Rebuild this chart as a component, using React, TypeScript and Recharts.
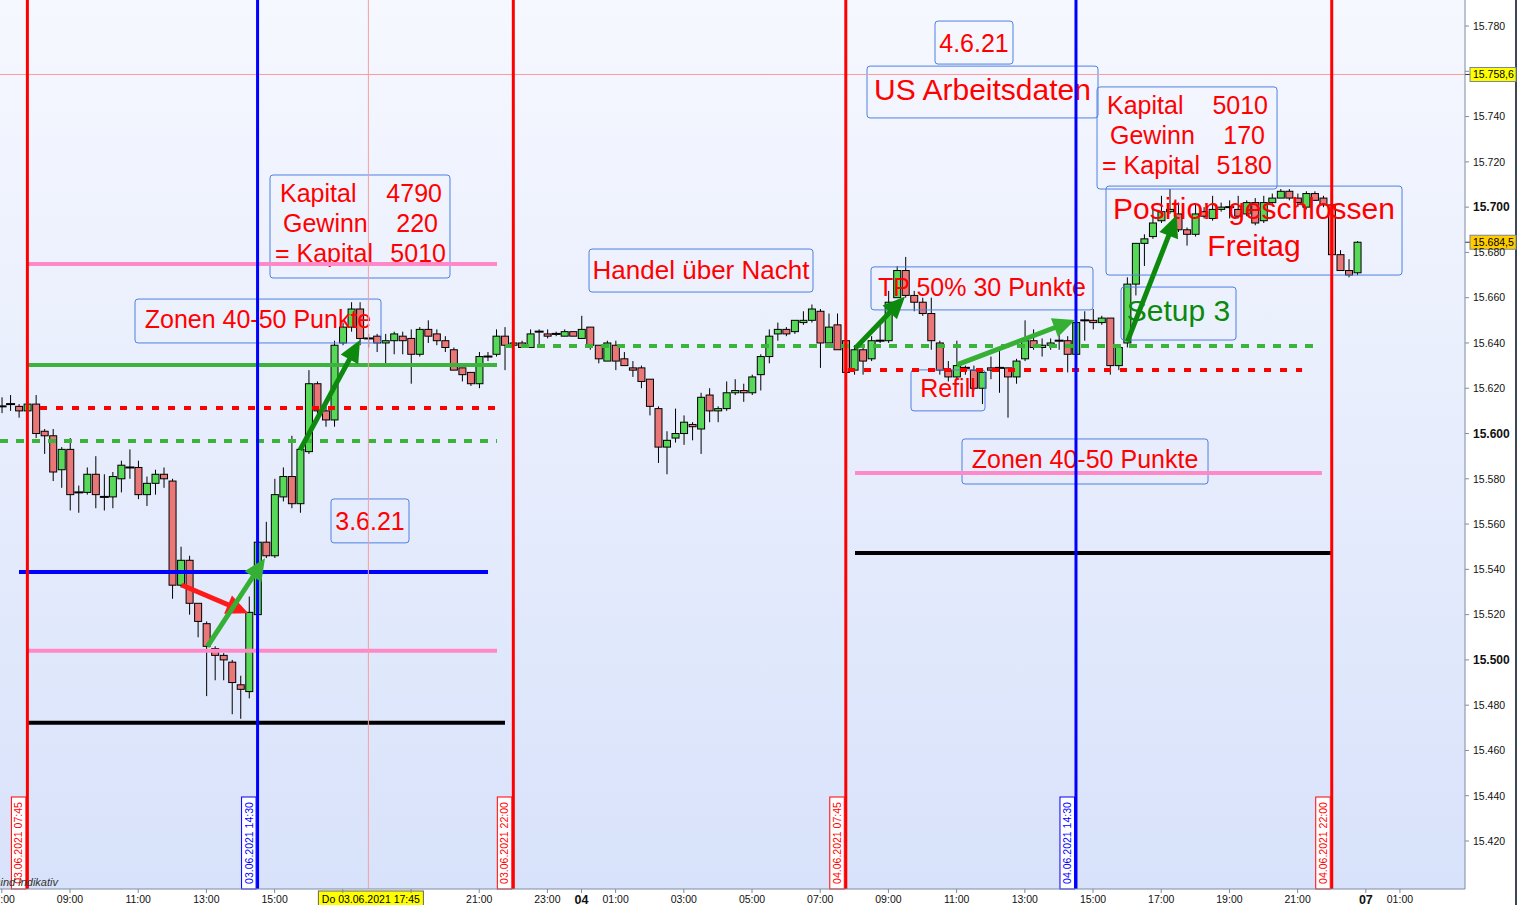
import React from "react";
import { ComposedChart, Bar, XAxis, YAxis, ReferenceLine } from "recharts";

// FDAX 15-minute candles, 03.06.2021 07:00 .. 04.06.2021 22:45
const firstHour = 7;
const barHours = 0.25;

const opens = [
  15612, 15613, 15612, 15610, 15613, 15601, 15599, 15584, 15593, 15574,
  15574, 15582, 15572, 15572, 15580, 15585, 15585, 15573, 15578, 15582,
  15579, 15533, 15544, 15525, 15516, 15505, 15502, 15499, 15489, 15486,
  15520, 15552, 15546, 15572, 15581, 15569, 15592, 15622, 15610, 15606,
  15640, 15647, 15655, 15642, 15643, 15640, 15641, 15643, 15642, 15635,
  15646, 15644, 15641, 15637, 15629, 15627, 15622, 15634, 15635, 15643,
  15639, 15640, 15638, 15645, 15644, 15644, 15643, 15645, 15642, 15647,
  15639, 15632, 15639, 15633, 15629, 15629, 15624, 15611, 15594, 15598,
  15600, 15604, 15602, 15617, 15610, 15611, 15618, 15619, 15618, 15626,
  15634, 15644, 15646, 15645, 15649, 15650, 15654, 15640, 15648, 15641,
  15628, 15637, 15633, 15641, 15641, 15660, 15672, 15661, 15658, 15653,
  15640, 15628, 15625, 15629, 15628, 15620, 15629, 15629, 15629, 15625,
  15633, 15641, 15638, 15639, 15641, 15641, 15635, 15650, 15650, 15649,
  15651, 15630, 15640, 15666, 15684, 15687, 15694, 15698, 15697, 15690,
  15688, 15698, 15695, 15699, 15700, 15699, 15697, 15702, 15694, 15702,
  15704, 15707, 15704, 15700, 15706, 15704, 15701, 15679, 15672, 15671,
];
const highs = [
  15616, 15617, 15613, 15614, 15617, 15602, 15602, 15594, 15598, 15577,
  15585, 15590, 15582, 15583, 15588, 15593, 15588, 15581, 15584, 15585,
  15580, 15550, 15546, 15525, 15517, 15506, 15503, 15500, 15493, 15528,
  15553, 15561, 15580, 15585, 15599, 15593, 15628, 15623, 15612, 15641,
  15649, 15658, 15658, 15644, 15644, 15644, 15645, 15645, 15646, 15647,
  15650, 15646, 15643, 15638, 15629, 15627, 15636, 15636, 15646, 15647,
  15640, 15641, 15646, 15646, 15646, 15645, 15646, 15645, 15652, 15647,
  15639, 15641, 15641, 15636, 15632, 15630, 15624, 15612, 15601, 15611,
  15608, 15605, 15618, 15620, 15612, 15623, 15624, 15622, 15626, 15635,
  15646, 15649, 15647, 15650, 15654, 15657, 15655, 15653, 15653, 15649,
  15639, 15638, 15643, 15650, 15663, 15674, 15678, 15663, 15660, 15660,
  15641, 15632, 15641, 15630, 15630, 15627, 15634, 15637, 15629, 15633,
  15650, 15646, 15642, 15642, 15646, 15643, 15651, 15654, 15655, 15652,
  15651, 15638, 15669, 15684, 15688, 15699, 15705, 15708, 15702, 15691,
  15701, 15700, 15705, 15702, 15703, 15705, 15703, 15704, 15705, 15706,
  15708, 15708, 15706, 15707, 15707, 15705, 15702, 15681, 15677, 15685,
];
const lows = [
  15609, 15610, 15607, 15609, 15598, 15591, 15579, 15576, 15566, 15565,
  15573, 15567, 15566, 15567, 15574, 15580, 15571, 15568, 15573, 15576,
  15527, 15532, 15520, 15510, 15484, 15491, 15491, 15476, 15474, 15483,
  15519, 15545, 15545, 15570, 15567, 15565, 15591, 15608, 15603, 15603,
  15639, 15645, 15639, 15638, 15636, 15631, 15635, 15635, 15622, 15634,
  15640, 15639, 15636, 15628, 15623, 15621, 15620, 15632, 15634, 15628,
  15638, 15638, 15638, 15639, 15642, 15643, 15643, 15643, 15642, 15637,
  15631, 15632, 15628, 15630, 15625, 15620, 15608, 15587, 15582, 15596,
  15595, 15597, 15591, 15605, 15605, 15610, 15617, 15614, 15617, 15619,
  15631, 15641, 15643, 15644, 15648, 15649, 15629, 15640, 15637, 15627,
  15626, 15626, 15632, 15640, 15640, 15660, 15660, 15654, 15652, 15637,
  15626, 15623, 15624, 15626, 15619, 15613, 15624, 15618, 15607, 15622,
  15632, 15637, 15634, 15637, 15637, 15627, 15634, 15641, 15646, 15648,
  15626, 15628, 15638, 15661, 15674, 15686, 15693, 15697, 15689, 15683,
  15687, 15695, 15694, 15698, 15695, 15695, 15696, 15692, 15693, 15701,
  15704, 15703, 15700, 15699, 15703, 15700, 15679, 15672, 15669, 15670,
];
const closes = [
  15612, 15613, 15610, 15613, 15600, 15599, 15583, 15593, 15573, 15574,
  15582, 15573, 15572, 15581, 15586, 15585, 15573, 15578, 15582, 15580,
  15533, 15544, 15525, 15517, 15506, 15502, 15500, 15490, 15487, 15521,
  15552, 15546, 15573, 15581, 15569, 15593, 15622, 15610, 15606, 15639,
  15647, 15655, 15642, 15642, 15640, 15641, 15644, 15641, 15635, 15646,
  15643, 15641, 15638, 15628, 15626, 15622, 15634, 15634, 15643, 15639,
  15640, 15638, 15644, 15645, 15643, 15644, 15645, 15643, 15646, 15639,
  15633, 15640, 15632, 15630, 15628, 15623, 15612, 15594, 15597, 15600,
  15605, 15603, 15616, 15610, 15611, 15618, 15619, 15618, 15625, 15634,
  15643, 15646, 15644, 15650, 15650, 15655, 15640, 15647, 15637, 15627,
  15637, 15632, 15641, 15641, 15658, 15672, 15661, 15658, 15653, 15641,
  15628, 15625, 15630, 15629, 15620, 15627, 15628, 15629, 15625, 15632,
  15641, 15638, 15639, 15640, 15641, 15635, 15649, 15650, 15649, 15651,
  15630, 15638, 15666, 15684, 15686, 15693, 15698, 15699, 15690, 15688,
  15697, 15696, 15699, 15700, 15700, 15696, 15702, 15693, 15702, 15704,
  15707, 15704, 15702, 15706, 15703, 15701, 15679, 15672, 15670, 15684.5,
];

// time axis in hours from 03.06 00:00 (weekend collapsed: 47 = Mo 07.06 00:00)
const xTicks = [7, 9, 11, 13, 15, 17, 19, 21, 23, 24, 25, 27, 29, 31, 33, 35, 37, 39, 41, 43, 45, 47, 48];
const xLabels = [
  "07:00", "09:00", "11:00", "13:00", "15:00", "", "", "21:00", "23:00", "04", "01:00",
  "03:00", "05:00", "07:00", "09:00", "11:00", "13:00", "15:00", "17:00", "19:00", "21:00", "07", "01:00",
];
const yTicks = [15420, 15440, 15460, 15480, 15500, 15520, 15540, 15560, 15580, 15600, 15620, 15640, 15660, 15680, 15700, 15720, 15740, 15760, 15780];
const yHidden = [15760]; // covered by the last-price tag

const data = opens.map((o, i) => ({
  t: firstHour + i * barHours,
  open: o,
  high: highs[i],
  low: lows[i],
  close: closes[i],
  range: [lows[i], highs[i]],
}));

const font = "'Liberation Sans', Arial, sans-serif";

const sessionLines = [
  { t: 7.75, color: "#ff0000", label: "03.06.2021 07:45" },
  { t: 14.5, color: "#0000ff", label: "03.06.2021 14:30" },
  { t: 22, color: "#ff0000", label: "03.06.2021 22:00" },
  { t: 31.75, color: "#ff0000", label: "04.06.2021 07:45" },
  { t: 38.5, color: "#0000ff", label: "04.06.2021 14:30" },
  { t: 46, color: "#ff0000", label: "04.06.2021 22:00" },
];

const levels = [
  { p: 15674.9, from: 7.768, to: 21.522, color: "#ff88c8" },
  { p: 15630.3, from: 7.768, to: 21.522, color: "#3cb43c" },
  { p: 15611.3, from: 8.12, to: 21.61, color: "#ff0000", dash: "7 9" },
  { p: 15596.7, from: 6.947, to: 21.522, color: "#3cb43c", dash: "8 8" },
  { p: 15538.8, from: 7.504, to: 21.258, color: "#0000ff" },
  { p: 15504.0, from: 7.768, to: 21.522, color: "#ff88c8" },
  { p: 15472.2, from: 7.768, to: 21.756, color: "#000000" },
  { p: 15638.7, from: 21.756, to: 45.51, color: "#3cb43c", dash: "8 8" },
  { p: 15628.1, from: 31.815, to: 45.13, color: "#ff0000", dash: "7 9" },
  { p: 15582.6, from: 32.02, to: 45.71, color: "#ff88c8" },
  { p: 15547.2, from: 32.02, to: 46.0, color: "#000000" },
];

const arrows = [
  { from: [12.275, 15533.1], to: [14.228, 15520.6], color: "#ff1a1a" },
  { from: [13.026, 15505.9], to: [14.718, 15544.9], color: "#35b035" },
  { from: [15.745, 15592.7], to: [17.504, 15641.3], color: "#0d8a0d" },
  { from: [32.02, 15637.6], to: [33.487, 15660.5], color: "#0d8a0d" },
  { from: [35.002, 15630.3], to: [38.472, 15650.2], color: "#35b035" },
  { from: [40.007, 15640.6], to: [41.454, 15696.5], color: "#0d8a0d" },
];

type Row = { left: string; right?: string; lx?: number; rx?: number; by: number };
type Note = { t1: number; t2: number; p1: number; p2: number; size: number; color: string; rows: Row[] };

const notes: Note[] = [
  {
    t1: 14.865, t2: 20.143, p1: 15714.2, p2: 15668.7, size: 25, color: "#ff0000",
    rows: [
      { left: "Kapital", right: "4790", lx: 10, rx: 8, by: 27 },
      { left: "Gewinn", right: "220", lx: 13, rx: 12, by: 57 },
      { left: "= Kapital", right: "5010", lx: 5, rx: 4, by: 87 },
    ],
  },
  { t1: 10.906, t2: 18.12, p1: 15659.4, p2: 15640.0, size: 25, color: "#ff0000", rows: [{ left: "Zonen 40-50  Punkte", by: 29 }] },
  { t1: 16.654, t2: 18.941, p1: 15571.1, p2: 15551.7, size: 25, color: "#ff0000", rows: [{ left: "3.6.21", by: 31 }] },
  { t1: 24.22, t2: 30.788, p1: 15681.5, p2: 15662.5, size: 26, color: "#ff0000", rows: [{ left: "Handel über Nacht", by: 30 }] },
  { t1: 34.366, t2: 36.653, p1: 15782.2, p2: 15763.2, size: 25, color: "#ff0000", rows: [{ left: "4.6.21", by: 31 }] },
  { t1: 32.372, t2: 39.146, p1: 15762.3, p2: 15739.4, size: 30, color: "#ff0000", rows: [{ left: "US Arbeitsdaten", by: 34 }] },
  {
    t1: 39.117, t2: 44.396, p1: 15753.1, p2: 15708.0, size: 25, color: "#ff0000",
    rows: [
      { left: "Kapital", right: "5010", lx: 10, rx: 9, by: 27 },
      { left: "Gewinn", right: "170", lx: 13, rx: 12, by: 57 },
      { left: "= Kapital", right: "5180", lx: 5, rx: 5, by: 87 },
    ],
  },
  { t1: 39.381, t2: 48.061, p1: 15709.3, p2: 15670.0, size: 30, color: "#ff0000", rows: [{ left: "Position geschlossen", by: 33 }, { left: "Freitag", by: 70 }] },
  { t1: 32.489, t2: 38.999, p1: 15673.6, p2: 15654.6, size: 25, color: "#ff0000", rows: [{ left: "TP 50% 30 Punkte", by: 29 }] },
  { t1: 39.821, t2: 43.193, p1: 15664.7, p2: 15641.3, size: 30, color: "#0a8a0a", rows: [{ left: "Setup 3", by: 34 }] },
  { t1: 33.662, t2: 35.832, p1: 15628.1, p2: 15610.0, size: 25, color: "#ff0000", rows: [{ left: "Refill", by: 27 }] },
  { t1: 35.158, t2: 42.372, p1: 15597.6, p2: 15577.7, size: 25, color: "#ff0000", rows: [{ left: "Zonen 40-50  Punkte", by: 29 }] },
];

const fmtPrice = (v: number) => {
  const s = String(Math.round(v));
  return s.slice(0, 2) + "." + s.slice(2);
};

function Candle(props: any) {
  const { x, y, width, height } = props;
  const d = props.payload ?? props;
  if (x == null || y == null) return null;
  const cx = x + width / 2;
  const span = d.high - d.low;
  const toY = (v: number) => (span > 0 ? y + ((d.high - v) / span) * height : y);
  const yo = toY(d.open);
  const yc = toY(d.close);
  const top = Math.min(yo, yc);
  const bot = Math.max(yo, yc);
  const up = d.close >= d.open;
  const doji = Math.abs(d.close - d.open) < 0.6;
  return (
    <g>
      <line x1={cx} x2={cx} y1={y} y2={y + height} stroke="#000" strokeWidth={1} />
      {doji ? (
        <rect x={cx - 4.5} y={top - 1} width={9} height={2} fill="#000" />
      ) : (
        <rect
          x={cx - 3.5}
          y={top}
          width={7}
          height={Math.max(bot - top, 1.5)}
          fill={up ? "#58d858" : "#ea7777"}
          stroke="#000"
          strokeWidth={1}
        />
      )}
    </g>
  );
}

function PriceTick(props: any) {
  const { x, y, payload } = props;
  const v = payload.value;
  if (yHidden.includes(v)) return null;
  const bold = v % 100 === 0;
  return (
    <text x={x} y={y} dy="0.36em" fontFamily={font} fontSize={bold ? 12 : 10.5} fontWeight={bold ? 700 : 400} fill="#111" textAnchor="start">
      {fmtPrice(v)}
    </text>
  );
}

function TimeTick(props: any) {
  const { x, y, payload } = props;
  const i = xTicks.indexOf(payload.value);
  const label = xLabels[i] ?? "";
  if (!label) return null;
  const day = label.length === 2;
  return (
    <text x={x} y={y + (day ? 8.5 : 8)} fontFamily={font} fontSize={day ? 12.5 : 10.5} fontWeight={day ? 700 : 400} fill="#111" textAnchor="middle">
      {label}
    </text>
  );
}

const sessionLabel = (text: string, color: string) => (props: any) => {
  const vb = props.viewBox ?? {};
  const lx = vb.x ?? 0;
  const bottom = (vb.y ?? 0) + (vb.height ?? 0);
  const cx = lx - 9;
  const cy = bottom - 46;
  return (
    <g>
      <rect x={lx - 16} y={bottom - 92} width={14.5} height={92} fill="#fff" stroke={color} strokeWidth={1} />
      <text x={cx} y={cy} transform={`rotate(-90 ${cx} ${cy})`} textAnchor="middle" dominantBaseline="central" fontFamily={font} fontSize={10.5} fill={color}>
        {text}
      </text>
    </g>
  );
};

const cursorLabel = (props: any) => {
  const vb = props.viewBox ?? {};
  const lx = vb.x ?? 0;
  const bottom = (vb.y ?? 0) + (vb.height ?? 0);
  return (
    <g>
      <rect x={lx - 50} y={bottom + 2} width={105} height={15} fill="#ffff00" stroke="#666" strokeWidth={1} />
      <text x={lx + 2.5} y={bottom + 10} textAnchor="middle" dominantBaseline="central" fontFamily={font} fontSize={10.5} fill="#000">
        Do 03.06.2021 17:45
      </text>
    </g>
  );
};

const priceTag = (text: string, fill: string) => (props: any) => {
  const vb = props.viewBox ?? {};
  const right = (vb.x ?? 0) + (vb.width ?? 0);
  const y = vb.y ?? 0;
  return (
    <g>
      <line x1={right} x2={right + 5} y1={y} y2={y} stroke="#333" />
      <rect x={right + 5} y={y - 7} width={46} height={14} fill={fill} stroke="#7a8794" strokeWidth={1} />
      <text x={right + 8} y={y} dominantBaseline="central" fontFamily={font} fontSize={10.5} fill="#000">
        {text}
      </text>
    </g>
  );
};

const arrowShape = (color: string) => (props: any) => {
  const { x1, y1, x2, y2 } = props;
  const dx = x2 - x1;
  const dy = y2 - y1;
  const len = Math.hypot(dx, dy) || 1;
  const ux = dx / len;
  const uy = dy / len;
  const head = 22;
  const half = 10;
  const bx = x2 - ux * head;
  const by = y2 - uy * head;
  const px = -uy;
  const py = ux;
  return (
    <g>
      <line x1={x1} y1={y1} x2={bx + ux * 2} y2={by + uy * 2} stroke={color} strokeWidth={5} />
      <polygon points={`${x2},${y2} ${bx + px * half},${by + py * half} ${bx - px * half},${by - py * half}`} fill={color} />
    </g>
  );
};

// note box drawn from its diagonal (upper-left -> lower-right) so it sits above the candles
const noteShape = (n: Note) => (props: any) => {
  const x = Math.min(props.x1, props.x2);
  const y = Math.min(props.y1, props.y2);
  const width = Math.abs(props.x2 - props.x1);
  const height = Math.abs(props.y2 - props.y1);
  return (
    <g>
      <rect x={x} y={y} width={width} height={height} rx={3} fill="none" stroke="#4f80e2" strokeWidth={1} />
      {n.rows.map((r, i) =>
        r.right != null ? (
          <g key={i}>
            <text x={x + (r.lx ?? 0)} y={y + r.by} fontFamily={font} fontSize={n.size} fill={n.color}>
              {r.left}
            </text>
            <text x={x + width - (r.rx ?? 0)} y={y + r.by} textAnchor="end" fontFamily={font} fontSize={n.size} fill={n.color}>
              {r.right}
            </text>
          </g>
        ) : (
          <text key={i} x={x + width / 2} y={y + r.by} textAnchor="middle" fontFamily={font} fontSize={n.size} fill={n.color}>
            {r.left}
          </text>
        )
      )}
    </g>
  );
};

export default function App() {
  return (
    <div style={{ position: "absolute", left: 0, top: 0, width: 1517, height: 905, background: "#fff", overflow: "hidden" }}>
      <div style={{ position: "absolute", left: 0, top: 0, width: 1465, height: 889, background: "linear-gradient(#f6f8ff, #d8e2fa)" }} />
      <div style={{ position: "absolute", right: 0, top: 0, width: 2, height: 905, background: "#3b4656" }} />
      <div style={{ position: "absolute", left: 0, top: 0 }}>
        <ComposedChart width={1517} height={905} data={data} margin={{ top: 0, right: 0, bottom: 0, left: 0 }}>
          <XAxis
            type="number"
            dataKey="t"
            domain={[6.947, 49.908]}
            allowDataOverflow
            ticks={xTicks}
            interval={0}
            height={16}
            tickSize={4}
            tickMargin={2}
            axisLine={{ stroke: "#7d8ca3" }}
            tickLine={{ stroke: "#7d8ca3" }}
            tick={<TimeTick />}
          />
          <YAxis
            orientation="right"
            type="number"
            domain={[15398.8, 15791.5]}
            allowDataOverflow
            ticks={yTicks}
            interval={0}
            width={52}
            tickSize={4}
            tickMargin={4}
            axisLine={{ stroke: "#7d8ca3" }}
            tickLine={{ stroke: "#7d8ca3" }}
            tick={<PriceTick />}
          />
          <Bar dataKey="range" barSize={7} shape={<Candle />} isAnimationActive={false} />
          {notes.map((n, i) => (
            <ReferenceLine
              key={`n${i}`}
              segment={[{ x: n.t1, y: n.p1 }, { x: n.t2, y: n.p2 }]}
              ifOverflow="visible"
              shape={noteShape(n)}
            />
          ))}
          {levels.map((l, i) => (
            <ReferenceLine
              key={`l${i}`}
              segment={[{ x: l.from, y: l.p }, { x: l.to, y: l.p }]}
              stroke={l.color}
              strokeWidth={4}
              strokeDasharray={l.dash}
              ifOverflow="visible"
            />
          ))}
          <ReferenceLine y={15758.6} stroke="#ff9a9a" strokeWidth={1} label={priceTag("15.758,6", "#ffff00")} />
          <ReferenceLine y={15684.5} stroke="none" label={priceTag("15.684,5", "#ffcc00")} />
          <ReferenceLine x={17.75} stroke="#f2a0a0" strokeWidth={1} label={cursorLabel} />
          {sessionLines.map((s) => (
            <ReferenceLine key={s.label} x={s.t} stroke={s.color} strokeWidth={3} label={sessionLabel(s.label, s.color)} />
          ))}
          {arrows.map((a, i) => (
            <ReferenceLine
              key={`a${i}`}
              segment={[{ x: a.from[0], y: a.from[1] }, { x: a.to[0], y: a.to[1] }]}
              ifOverflow="visible"
              shape={arrowShape(a.color)}
            />
          ))}
        </ComposedChart>
      </div>
      <span
        style={{ position: "absolute", right: 1517 - 58, top: 876, fontFamily: font, fontSize: 11, fontStyle: "italic", color: "#333", whiteSpace: "nowrap" }}
      >
        Kurse sind indikativ
      </span>
    </div>
  );
}
